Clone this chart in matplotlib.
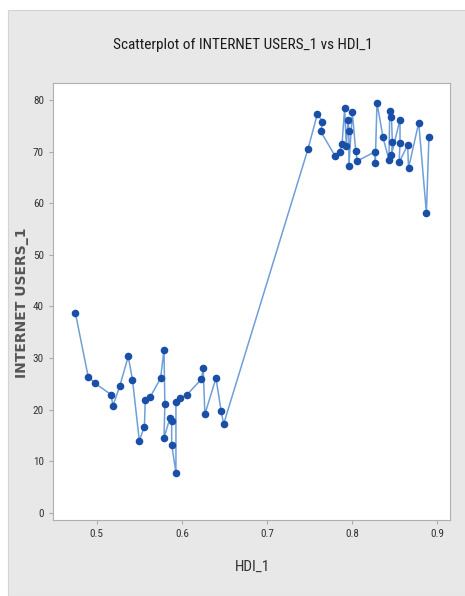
import matplotlib
matplotlib.use("Agg")
import matplotlib.pyplot as plt
from matplotlib import font_manager
from matplotlib.patches import Rectangle

# HDI_1 vs INTERNET USERS_1, in plotting order
hdi = [0.475, 0.490, 0.498, 0.517, 0.519, 0.527, 0.537, 0.542, 0.550, 0.556,
       0.557, 0.563, 0.575, 0.579, 0.580, 0.579, 0.586, 0.588, 0.588, 0.593,
       0.593, 0.598, 0.606, 0.623, 0.625, 0.627, 0.640, 0.646, 0.649,
       0.748, 0.759, 0.765, 0.763, 0.780, 0.785, 0.788, 0.791, 0.793, 0.795,
       0.796, 0.796, 0.800, 0.804, 0.806, 0.827, 0.827, 0.829, 0.836, 0.843,
       0.844, 0.846, 0.847, 0.846, 0.856, 0.856, 0.855, 0.865, 0.866, 0.878,
       0.887, 0.890]
users = [38.7, 26.4, 25.1, 22.9, 20.7, 24.5, 30.3, 25.8, 14.0, 16.7,
         21.9, 22.5, 26.1, 31.6, 21.1, 14.5, 18.4, 17.7, 13.2, 7.8,
         21.4, 22.2, 22.9, 25.9, 28.0, 19.1, 26.1, 19.8, 17.2,
         70.5, 77.3, 75.8, 73.9, 69.1, 70.0, 71.5, 78.4, 71.0, 76.2,
         73.9, 67.2, 77.6, 70.2, 68.2, 70.0, 67.8, 79.5, 72.8, 68.4,
         77.9, 76.8, 71.8, 69.4, 76.2, 71.6, 67.9, 71.3, 66.8, 75.6,
         58.1, 72.9]

xticks = [0.5, 0.6, 0.7, 0.8, 0.9]
yticks = [0, 10, 20, 30, 40, 50, 60, 70, 80]

# pick a condensed face if one is there, else shrink plain DejaVu
narrow = 'DejaVu Sans'
scale = 0.8
for name in ['DejaVu Sans Condensed', 'Liberation Sans Narrow', 'Roboto Condensed']:
    try:
        font_manager.findfont(name, fallback_to_default=False)
        narrow = name
        scale = 1.0
        break
    except ValueError:
        pass

fig = plt.figure(figsize=(4.65, 5.96), dpi=100)
fig.patch.set_facecolor('white')
# grey Minitab-style panel
fig.patches.append(Rectangle((8 / 465, 0), 1, 1 - 10 / 596, transform=fig.transFigure,
                             facecolor='#e8e8e8', edgecolor='#d4d4d4', lw=0.8, zorder=-1))

ax = fig.add_axes([53 / 465, 1 - 520 / 596, 397 / 465, 437 / 596])
ax.set_facecolor('white')
ax.plot(hdi, users, color='#6f9fd8', lw=1.1, zorder=2)
ax.scatter(hdi, users, s=20, color='#1a4fa8', zorder=3)

ax.set_xlim(0.4487, 0.9147)
ax.set_ylim(-1.4, 83.3)
ax.set_xticks(xticks)
ax.set_xticklabels([f"{t:.1f}" for t in xticks], family=narrow)
ax.set_yticks(yticks)
ax.set_yticklabels([str(t) for t in yticks], family=narrow)
ax.tick_params(axis='both', colors='#aaaaaa', labelcolor='#333333', labelsize=8 * scale,
               length=3, width=0.8)
for s in ax.spines.values():
    s.set_color('#b0b0b0')
    s.set_linewidth(0.8)

fig.text(243 / 465, 1 - 45 / 596, "Scatterplot of INTERNET USERS_1 vs HDI_1", ha='center',
         va='center', fontsize=11 * scale, family=narrow, color='#1a1a1a')
fig.text(252 / 465, 1 - 567 / 596, "HDI_1", ha='center', va='center', fontsize=11 * scale,
         family=narrow, color='#333333')
fig.text(22 / 465, 1 - 303 / 596, "INTERNET USERS_1", ha='center', va='center', rotation=90,
         fontsize=10, weight='bold', color='#555555')

fig.savefig("out.png", dpi=100)
